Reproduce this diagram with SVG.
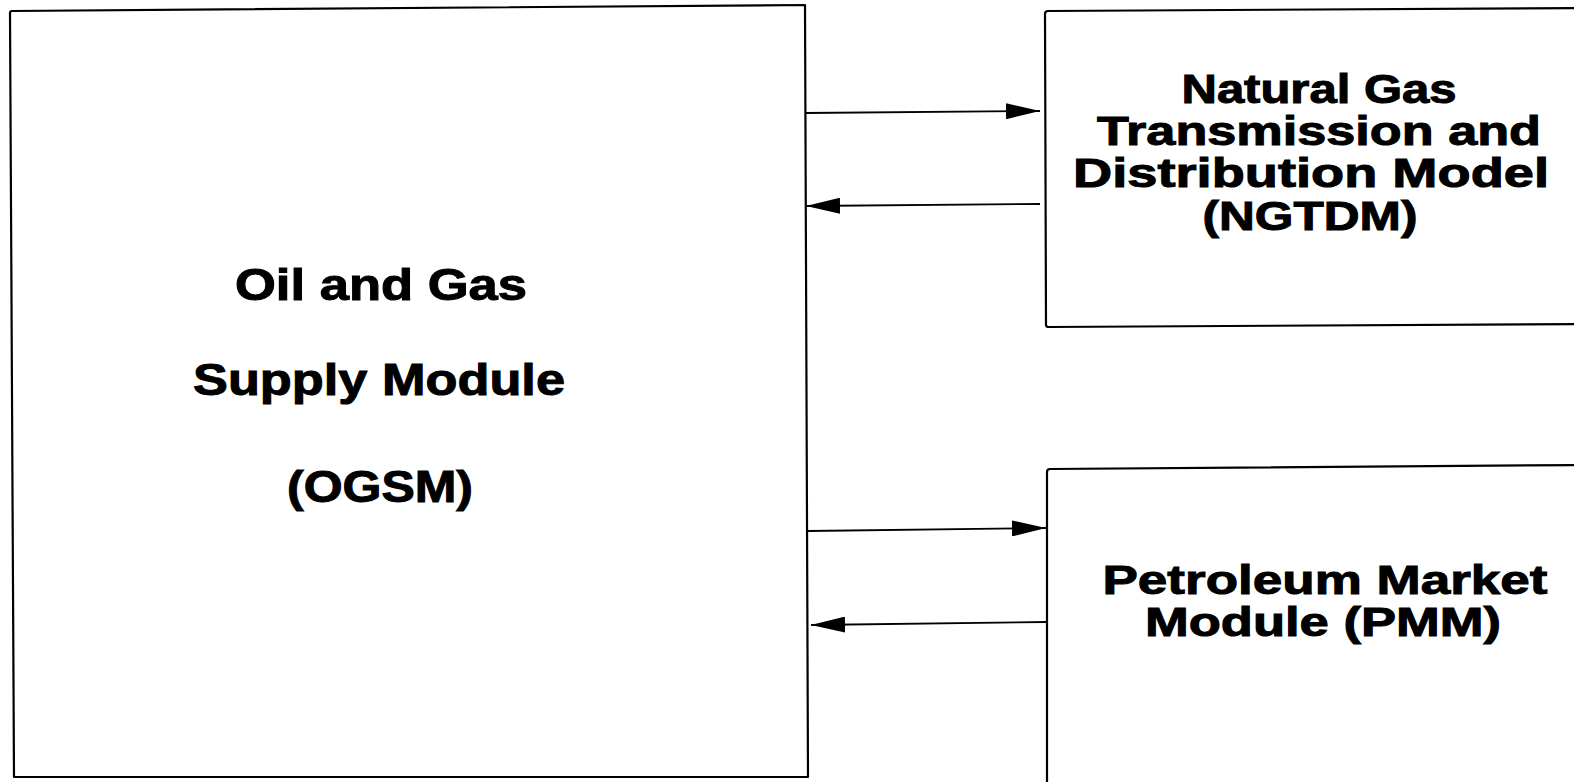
<svg xmlns="http://www.w3.org/2000/svg" width="1574" height="782" viewBox="0 0 1574 782">
<defs>
<style>
.box{fill:none;stroke:#000;stroke-width:2.2;stroke-linejoin:round}
.con{stroke:#000;stroke-width:1.8;fill:none}
.t{font-family:"Liberation Sans",Arial,sans-serif;font-weight:bold;font-size:44px;fill:#000;stroke:#000;stroke-width:1;text-anchor:middle}
.s{font-size:41px}
</style>
<marker id="ah" viewBox="0 0 34 16" refX="34" refY="8" markerWidth="34" markerHeight="16" markerUnits="userSpaceOnUse" orient="auto">
<path d="M0,0 L34,8 L0,16 Z" fill="#000"/>
</marker>
</defs>
<rect width="1574" height="782" fill="#fff"/>
<g id="ogsm">
<path class="box" d="M10,13 Q10,11 12,11 L805,5 L808,777 L14,777 Z"/>
<text class="t" x="381" y="300" textLength="292" lengthAdjust="spacingAndGlyphs">Oil and Gas</text>
<text class="t" x="379" y="395" textLength="372" lengthAdjust="spacingAndGlyphs">Supply Module</text>
<text class="t" x="380" y="502" textLength="186" lengthAdjust="spacingAndGlyphs">(OGSM)</text>
</g>
<g id="ngtdm">
<path class="box" d="M1580,8 L1048,11 Q1045,11 1045,14 L1046,325 Q1046,327 1049,327 L1580,324"/>
<text class="t s" x="1319" y="103" textLength="275" lengthAdjust="spacingAndGlyphs">Natural Gas</text>
<text class="t s" x="1319" y="145" textLength="444" lengthAdjust="spacingAndGlyphs">Transmission and</text>
<text class="t s" x="1311" y="187" textLength="476" lengthAdjust="spacingAndGlyphs">Distribution Model</text>
<text class="t s" x="1310" y="230" textLength="215" lengthAdjust="spacingAndGlyphs">(NGTDM)</text>
</g>
<g id="pmm">
<path class="box" d="M1047,790 L1047,472 Q1047,469 1050,469 L1580,465"/>
<text class="t s" x="1325" y="594" textLength="445" lengthAdjust="spacingAndGlyphs">Petroleum Market</text>
<text class="t s" x="1323" y="636" textLength="356" lengthAdjust="spacingAndGlyphs">Module (PMM)</text>
</g>
<g id="connectors">
<line class="con" x1="805" y1="113" x2="1040" y2="111" marker-end="url(#ah)"/>
<line class="con" x1="1040" y1="204" x2="806" y2="206" marker-end="url(#ah)"/>
<line class="con" x1="808" y1="531" x2="1046" y2="528" marker-end="url(#ah)"/>
<line class="con" x1="1046" y1="622" x2="811" y2="625" marker-end="url(#ah)"/>
</g>
</svg>
